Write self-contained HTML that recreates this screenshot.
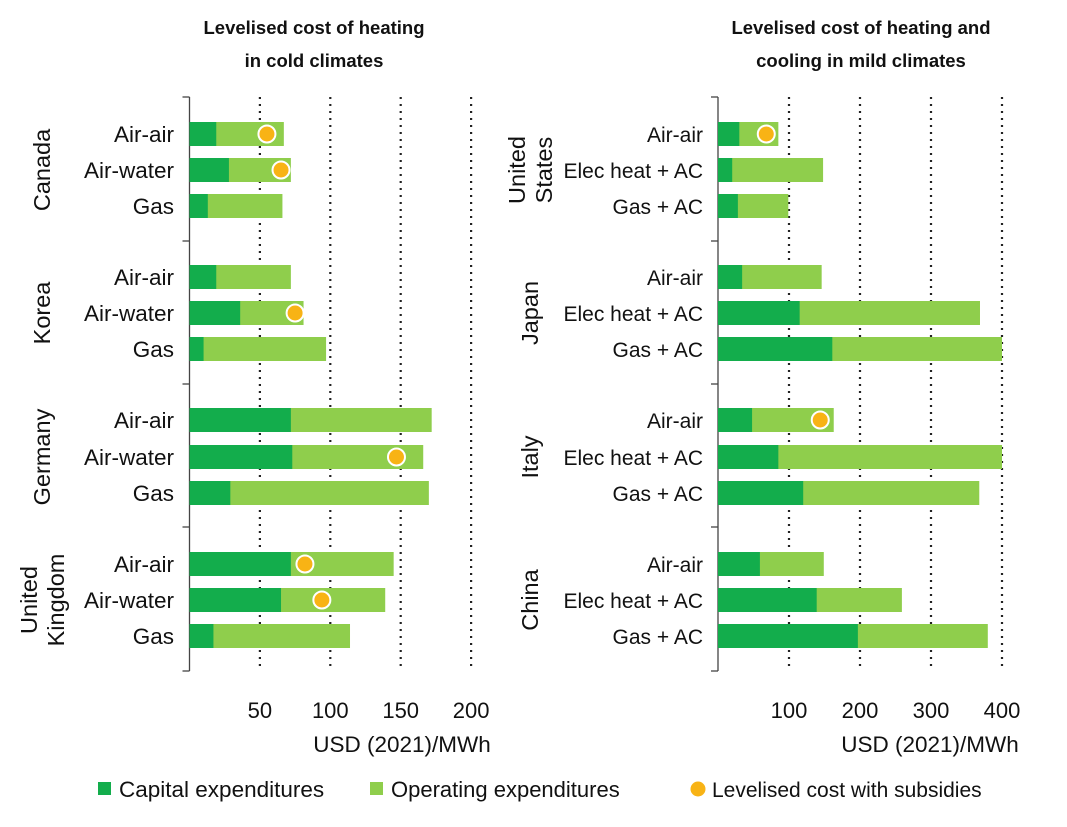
<!DOCTYPE html>
<html><head><meta charset="utf-8"><style>
body{margin:0;background:#fff;}
svg{display:block;font-family:"Liberation Sans",Arial,sans-serif;}
</style></head><body>
<svg id="c" width="1067" height="827" viewBox="0 0 1067 827"></svg>
<script>
const leftCountries=["Canada","Korea","Germany","United Kingdom"];
const leftTech=["Air-air","Air-water","Gas"];
const leftCapex=[19,28,13, 19,36,10, 72,73,29, 72,65,17];
const leftTotal=[67,72,66, 72,81,97, 172,166,170, 145,139,114];
const leftSub=[55,65,null, null,75,null, null,147,null, 82,94,null];
const leftTicks=[50,100,150,200];

const rightCountries=["United States","Japan","Italy","China"];
const rightTech=["Air-air","Elec heat + AC","Gas + AC"];
const rightCapex=[30,20,28, 34,115,161, 48,85,120, 59,139,197];
const rightTotal=[85,148,99, 146,369,400, 163,400,368, 149,259,380];
const rightSub=[68,null,null, null,null,null, 144,null,null, null,null,null];
const rightTicks=[100,200,300,400];

const NS="http://www.w3.org/2000/svg";
const svg=document.getElementById('c');
function mk(t,a,p){const e=document.createElementNS(NS,t);for(const k in a)e.setAttribute(k,a[k]);(p||svg).appendChild(e);return e;}
const rowY=[134,170,206, 277,313,349, 420,457,493, 564,600,636];
const DARK="#13ad4c", LIGHT="#8fce4c";

function panel(cfg){
  const g=mk('g',{});
  
  
  const x=v=>cfg.x0+v*cfg.scale;
  cfg.ticks.forEach(t=>{
    const l=mk('line',{x1:x(t),x2:x(t),y1:97,y2:671,stroke:'#222','stroke-width':2.2,'stroke-dasharray':'2 5'},g);
    
    
    const tx=mk('text',{x:x(t),y:718,'font-size':22,'text-anchor':'middle',fill:'#111'},g);
    tx.textContent=t;
    
    
  });
  const ax=mk('line',{x1:cfg.x0,x2:cfg.x0,y1:97,y2:671,stroke:'#444','stroke-width':1.3},g);
  
  
  [97,241,384,527,671].forEach(y=>{
    const tk=mk('line',{x1:cfg.x0-7,x2:cfg.x0,y1:y,y2:y,stroke:'#444','stroke-width':1.3},g);
    
    
  });
  cfg.capex.forEach((c,i)=>{
    const y=rowY[i]-12;
    const b2=mk('rect',{x:x(0),y:y,width:x(cfg.total[i])-x(0),height:24,fill:LIGHT},g);
    
    
    const b1=mk('rect',{x:x(0),y:y,width:x(c)-x(0),height:24,fill:DARK},g);
    
    
    if(cfg.sub[i]!=null){
      const d=mk('circle',{cx:x(cfg.sub[i]),cy:rowY[i],r:8.5,fill:'#f8b315',stroke:'#fff','stroke-width':2},g);
      
      
    }
    const lb=mk('text',{x:cfg.labelX,y:rowY[i]+8,'font-size':cfg.labelSize,'text-anchor':'end',fill:'#111'},g);
    lb.textContent=cfg.tech[i%3];
    
    
  });
  cfg.countries.forEach((c,k)=>{
    const cy=rowY[k*3+1];
    const parts=c.split(' ');
    const t=mk('text',{transform:`translate(${cfg.countryX},${cy}) rotate(-90)`,'font-size':23.5,'text-anchor':'middle',fill:'#111'},g);
    
    
    if(parts.length===1){t.setAttribute('y',8);t.textContent=c;}
    else{parts.forEach((p,j)=>{const ts=mk('tspan',{x:0,y:j===0?-5:22},t);ts.textContent=p;});}
  });
  const at=mk('text',{x:cfg.titleX,y:752,'font-size':22.5,'text-anchor':'middle',fill:'#111'},g);
  at.textContent='USD (2021)/MWh';
  
  
  cfg.title.forEach((s,j)=>{
    const tt=mk('text',{x:cfg.titleCX,y:34+j*33,'font-size':18.5,'font-weight':'bold','text-anchor':'middle',fill:'#111'},g);
    tt.textContent=s;
    
    
  });
}
panel({name:'left-panel',x0:189.5,scale:1.408,ticks:leftTicks,capex:leftCapex,total:leftTotal,sub:leftSub,
  tech:leftTech,countries:leftCountries,labelX:174,labelSize:22.5,countryX:42,titleX:402,titleCX:314,
  title:['Levelised cost of heating','in cold climates']});
panel({name:'right-panel',x0:718,scale:0.71,ticks:rightTicks,capex:rightCapex,total:rightTotal,sub:rightSub,
  tech:rightTech,countries:rightCountries,labelX:703,labelSize:21,countryX:530,titleX:930,titleCX:861,
  title:['Levelised cost of heating and','cooling in mild climates']});
const lg=mk('g',{});


const items=[['rect',DARK,'Capital expenditures',98,22.5],['rect',LIGHT,'Operating expenditures',370,22],['circle','#f8b315','Levelised cost with subsidies',691,21]];
items.forEach(it=>{
  if(it[0]==='rect'){const r=mk('rect',{x:it[3],y:782,width:13,height:13,fill:it[1]},lg);}
  else{const c=mk('circle',{cx:it[3]+7,cy:789,r:7.5,fill:it[1]},lg);}
  const t=mk('text',{x:it[3]+21,y:797,'font-size':it[4],fill:'#111'},lg);
  t.textContent=it[2];
  
  
});
</script>
</body></html>
